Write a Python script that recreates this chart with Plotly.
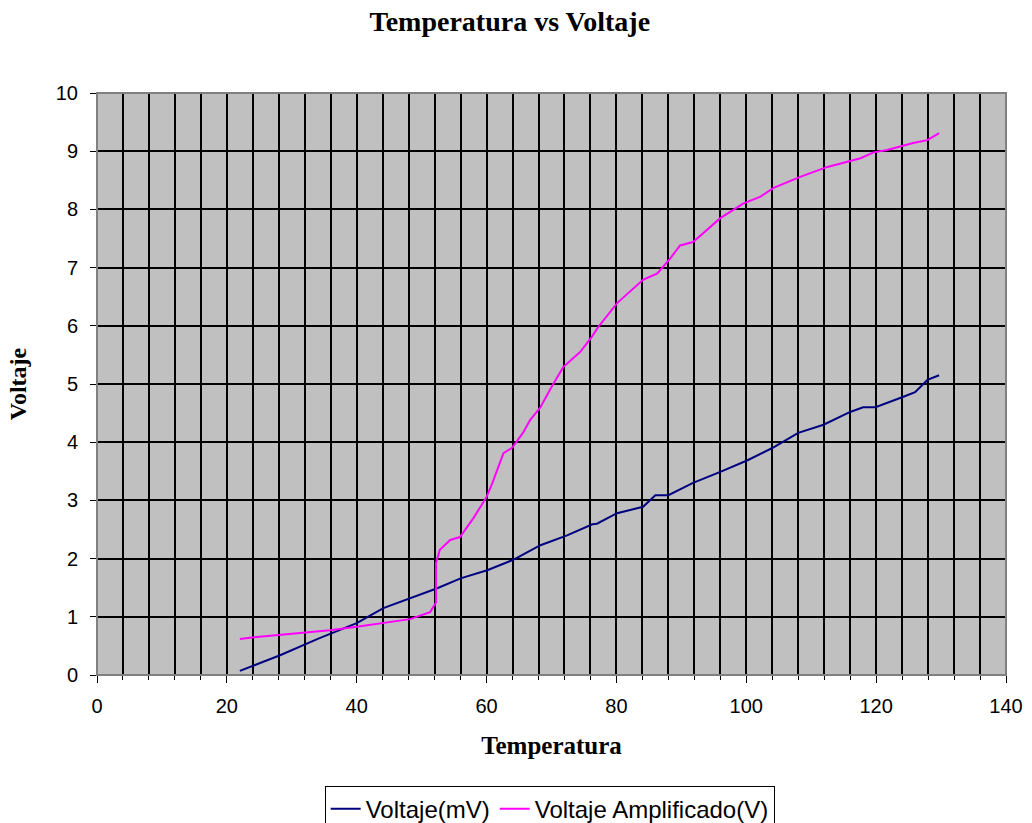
import plotly.graph_objects as go

temp_mv = [22, 28.2, 34, 40, 44.1, 48.2, 50.2, 52.4, 56, 60.1, 64.1, 68.3, 72.4, 76.3, 77, 80.1, 84.1, 86, 88,
           91.8, 96, 100.2, 104, 108, 111.9, 116, 118, 119.9, 124.2, 126, 127.9, 129.7]
volt_mv = [0.07, 0.34, 0.62, 0.89, 1.15, 1.32, 1.39, 1.49, 1.66, 1.8, 1.98, 2.23, 2.4, 2.59, 2.6, 2.78, 2.89, 3.09, 3.09,
           3.3, 3.49, 3.69, 3.9, 4.16, 4.3, 4.52, 4.6, 4.6, 4.78, 4.86, 5.07, 5.15]

temp_amp = [22, 24.2, 30, 35.9, 40, 44, 48.2, 51.3, 52.2, 52.2, 52.8, 54.4, 55.9, 58, 60, 60.9, 62.6, 63.9, 65.6,
            66.7, 68.3, 70, 71.8, 74.4, 76.2, 77.2, 80.1, 84.1, 86.3, 88.3, 89.8, 91.8, 96, 99.5, 102.2, 104.2,
            108.3, 112.5, 117.6, 119.6, 121.7, 125.7, 127.9, 129.7]
volt_amp = [0.62, 0.65, 0.71, 0.77, 0.83, 0.89, 0.96, 1.08, 1.24, 1.92, 2.15, 2.32, 2.37, 2.7, 3.06, 3.3, 3.81, 3.9, 4.16,
            4.38, 4.6, 4.95, 5.29, 5.55, 5.81, 5.98, 6.39, 6.79, 6.9, 7.16, 7.38, 7.44, 7.85, 8.1, 8.22, 8.37,
            8.56, 8.73, 8.88, 8.98, 9.02, 9.14, 9.19, 9.31]

fig = go.Figure()
fig.add_trace(go.Scatter(x=temp_mv, y=volt_mv, mode="lines", name="Voltaje(mV)",
                         line=dict(color="#000080", width=2)))
fig.add_trace(go.Scatter(x=temp_amp, y=volt_amp, mode="lines", name="Voltaje Amplificado(V)",
                         line=dict(color="#FF00FF", width=2)))

serif = "Liberation Serif, Times New Roman, serif"
sans = "Liberation Sans, Arial, sans-serif"

fig.update_layout(
    width=1032, height=823,
    margin=dict(l=97, r=26, t=93, b=148, autoexpand=False),
    paper_bgcolor="white", plot_bgcolor="#C0C0C0",
    title=dict(text="<b>Temperatura vs Voltaje</b>", x=0.494, xanchor="center", y=0.974, yanchor="middle",
               font=dict(family=serif, size=28, color="black")),
    showlegend=True,
    legend=dict(orientation="h", x=0.498, xanchor="center", y=-0.19, yanchor="top",
                bordercolor="black", borderwidth=1, bgcolor="white",
                font=dict(family=sans, size=24, color="black"), itemwidth=30, tracegroupgap=0),
    xaxis=dict(range=[0, 140], dtick=20, tick0=0, showgrid=True, gridcolor="black", gridwidth=2,
               minor=dict(dtick=4, showgrid=True, gridcolor="black", gridwidth=2, ticks="outside",
                          ticklen=4, tickcolor="black"),
               ticks="outside", ticklen=7, tickcolor="black", tickwidth=1, ticklabelstandoff=6,
               showline=True, linecolor="black", linewidth=1, zeroline=False,
               tickfont=dict(family=sans, size=20, color="black"),
               title=dict(text="<b>Temperatura</b>", font=dict(family=serif, size=25, color="black"), standoff=20)),
    yaxis=dict(range=[0, 10], dtick=1, showgrid=True, gridcolor="black", gridwidth=2,
               ticks="outside", ticklen=6, tickcolor="black", ticklabelstandoff=8,
               showline=True, linecolor="black", linewidth=1, zeroline=False,
               tickfont=dict(family=sans, size=20, color="black"),
               title=dict(text="<b>Voltaje</b>", font=dict(family=serif, size=24, color="black"), standoff=22)),
)
fig.add_shape(type="rect", xref="paper", yref="paper", x0=0, x1=1, y0=0, y1=1,
              line=dict(color="#808080", width=2), layer="above")
fig.write_html("out.html")
